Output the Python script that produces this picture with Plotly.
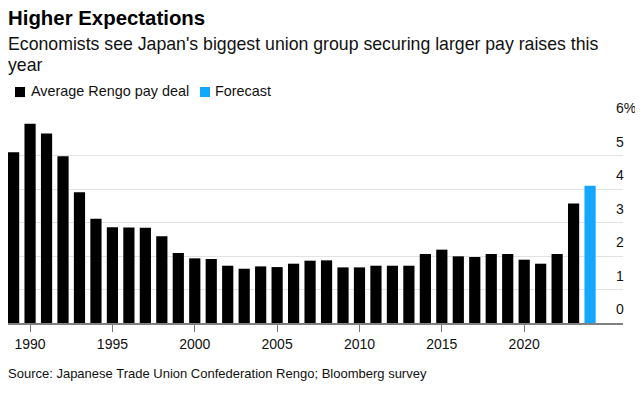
import plotly.graph_objects as go

years = list(range(1989, 2024))
pay_deal = [5.10, 5.95, 5.66, 4.98, 3.90, 3.11, 2.86, 2.85, 2.84, 2.59,
            2.09, 1.93, 1.91, 1.71, 1.62, 1.69, 1.67, 1.77, 1.86, 1.87,
            1.66, 1.66, 1.71, 1.71, 1.71, 2.06, 2.19, 1.99, 1.97, 2.06,
            2.06, 1.89, 1.77, 2.06, 3.57]
forecast_year = [2024]
forecast = [4.10]

y_ticks = [0, 1, 2, 3, 4, 5, 6]
y_tick_labels = ["0", "1", "2", "3", "4", "5", "6%"]
x_ticks = [1990, 1995, 2000, 2005, 2010, 2015, 2020]

FONT = "Liberation Sans, Arial, sans-serif"
BLACK = "#000000"
BLUE = "#13a8fe"

fig = go.Figure()
fig.add_trace(go.Bar(x=years, y=pay_deal, name="Average Rengo pay deal",
                     marker=dict(color=BLACK, line=dict(width=0)), width=0.68))
fig.add_trace(go.Bar(x=forecast_year, y=forecast, name="Forecast",
                     marker=dict(color=BLUE, line=dict(width=0)), width=0.68))

annotations = []
for v, t in zip(y_ticks, y_tick_labels):
    annotations.append(dict(xref="x", yref="y", x=2025.45, y=v, text=t,
                            showarrow=False, xanchor="left", yanchor="middle",
                            yshift=14, font=dict(size=14, color="#111111", family=FONT)))

annotations.append(dict(xref="paper", yref="paper", x=0, y=1.517, text="<b>Higher Expectations</b>",
                        showarrow=False, xanchor="left", yanchor="middle", xshift=-2,
                        font=dict(size=20.4, color="#000000", family=FONT)))
annotations.append(dict(xref="paper", yref="paper", x=0, y=1.388,
                        text="Economists see Japan's biggest union group securing larger pay raises this",
                        showarrow=False, xanchor="left", yanchor="middle", xshift=-2,
                        font=dict(size=17.7, color="#111111", family=FONT)))
annotations.append(dict(xref="paper", yref="paper", x=0, y=1.284, text="year",
                        showarrow=False, xanchor="left", yanchor="middle", xshift=-2,
                        font=dict(size=17.7, color="#111111", family=FONT)))
annotations.append(dict(xref="paper", yref="paper", x=0, y=-0.250,
                        text="Source: Japanese Trade Union Confederation Rengo; Bloomberg survey",
                        showarrow=False, xanchor="left", yanchor="middle", xshift=-2,
                        font=dict(size=13, color="#111111", family=FONT)))

# legend (drawn manually to match spacing)
legend_items = [("Average Rengo pay deal", BLACK, 0.0114, 0.0374),
                ("Forecast", BLUE, 0.3122, 0.3366)]
shapes = []
for name, color, sx, tx in legend_items:
    shapes.append(dict(type="rect", xref="paper", yref="paper", x0=sx, x1=sx + 0.0163,
                       y0=1.124, y1=1.174, fillcolor=color, line=dict(width=0)))
    annotations.append(dict(xref="paper", yref="paper", x=tx, y=1.154, text=name,
                            showarrow=False, xanchor="left", yanchor="middle", xshift=-2,
                            font=dict(size=14.4, color="#111111", family=FONT)))

fig.update_layout(
    width=635, height=387,
    margin=dict(l=0, r=20, t=114, b=72, pad=0),
    paper_bgcolor="white", plot_bgcolor="white",
    barmode="overlay",
    showlegend=False,
    annotations=annotations,
    shapes=shapes,
    font=dict(family=FONT),
)
fig.update_xaxes(range=[1988.66, 2026], tickvals=x_ticks, ticks="outside", ticklen=7,
                 tickcolor="#777777", tickwidth=1, showgrid=False, showline=True,
                 linecolor="#808080", linewidth=2,
                 tickfont=dict(size=14, color="#111111", family=FONT), fixedrange=True)
fig.update_yaxes(range=[0, 6], tickvals=y_ticks, showticklabels=False, showgrid=True,
                 gridcolor="#e2e2e2", gridwidth=1, zeroline=False, showline=False,
                 fixedrange=True)

fig.write_html("out.html")
